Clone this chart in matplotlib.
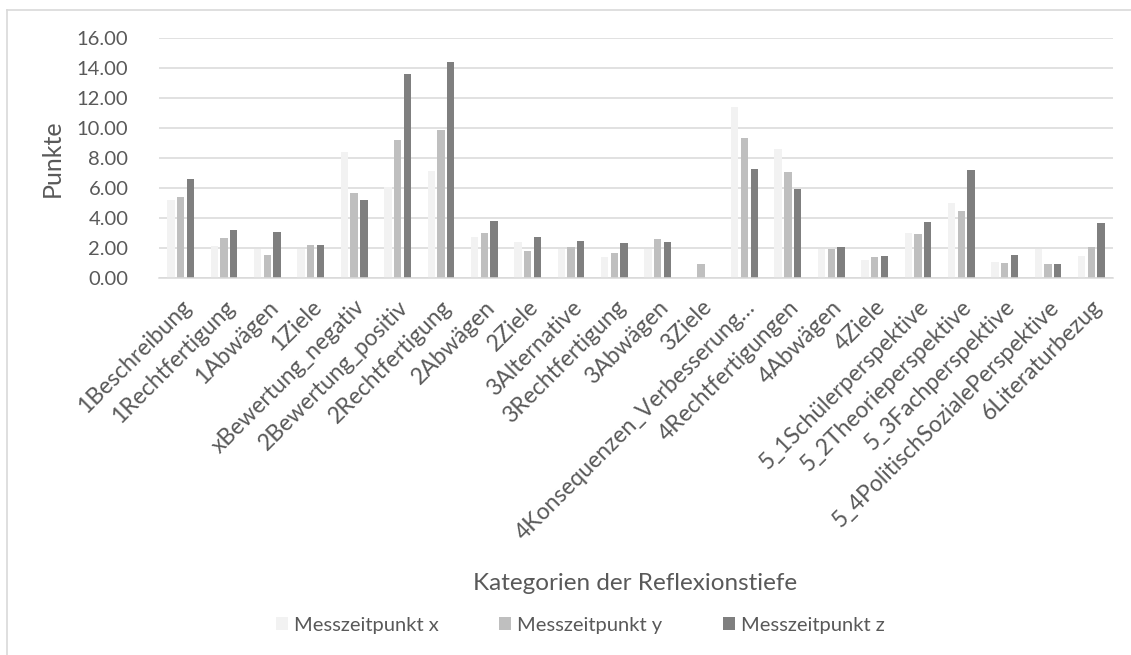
import numpy as np
import matplotlib
matplotlib.use('Agg')
from matplotlib import pyplot as plt
from matplotlib.lines import Line2D

kategorien = ['1Beschreibung', '1Rechtfertigung', '1Abwägen', '1Ziele',
              'xBewertung_negativ', '2Bewertung_positiv', '2Rechtfertigung',
              '2Abwägen', '2Ziele', '3Alternative', '3Rechtfertigung',
              '3Abwägen', '3Ziele', '4Konsequenzen_Verbesserung…',
              '4Rechtfertigungen', '4Abwägen', '4Ziele',
              '5_1Schülerperspektive', '5_2Theorieperspektive',
              '5_3Fachperspektive', '5_4PolitischSozialePerspektive',
              '6Literaturbezug']

messzeitpunkt_x = [5.22, 2.16, 1.96, 1.96, 8.42, 6.07, 7.13, 2.76, 2.44, 1.96, 1.44,
                   1.96, 0.0, 11.40, 8.62, 1.96, 1.24, 3.02, 5.00, 1.09, 1.96, 1.51]
messzeitpunkt_y = [5.44, 2.67, 1.53, 2.20, 5.69, 9.22, 9.87, 3.02, 1.84, 2.09, 1.69,
                   2.62, 0.96, 9.35, 7.11, 1.96, 1.40, 2.96, 4.47, 1.02, 0.96, 2.11]
messzeitpunkt_z = [6.62, 3.22, 3.09, 2.22, 5.20, 13.60, 14.42, 3.82, 2.76, 2.49, 2.38,
                   2.40, 0.0, 7.31, 5.98, 2.07, 1.47, 3.76, 7.20, 1.56, 0.96, 3.69]

series = ['Messzeitpunkt x', 'Messzeitpunkt y', 'Messzeitpunkt z']
farben = ['#F2F2F2', '#BFBFBF', '#7F7F7F']
texto = '#595959'

plt.rcParams['font.family'] = ['Lato', 'DejaVu Sans']

fig = plt.figure(figsize=(11.31, 6.55), dpi=100)
ax = fig.add_axes([0.1406, 0.5751, 0.8436, 0.3664])

pos = np.arange(len(kategorien))
paso = 0.2235
for i, (datos, c) in enumerate(zip([messzeitpunkt_x, messzeitpunkt_y, messzeitpunkt_z], farben)):
    ax.bar(pos + (i - 1) * paso, datos, width=0.17, color=c, label=series[i], zorder=2)

ax.set_xlim(-0.5, len(kategorien) - 0.5)
ax.set_ylim(0, 16)
ax.set_yticks(np.arange(0, 17, 2))
ax.set_yticklabels(['%.2f' % v for v in np.arange(0, 17, 2)])
ax.grid(axis='y', color='#D9D9D9', linewidth=1.1, zorder=0)
ax.set_axisbelow(True)
for s in ['top', 'right', 'left']:
    ax.spines[s].set_visible(False)
ax.spines['bottom'].set_color('#D9D9D9')
ax.spines['bottom'].set_linewidth(1.1)

ax.set_xticks(pos)
ax.set_xticklabels(kategorien, rotation=45, ha='right', rotation_mode='anchor')
ax.tick_params(axis='x', length=0, pad=13, labelsize=16.5, labelcolor=texto)
ax.tick_params(axis='y', length=0, pad=22, labelsize=14.5, labelcolor=texto)

ax.set_ylabel('Punkte', fontsize=18, color=texto)
ax.yaxis.set_label_coords(-0.1, 0.5)

fig.text(635 / 1131, 1 - 583 / 655, 'Kategorien der Reflexionstiefe',
         ha='center', va='center', fontsize=17.5, color=texto)

leyenda = fig.legend(loc='center', bbox_to_anchor=(580 / 1131, 1 - 625 / 655), ncol=3,
                     frameon=False, fontsize=14.5, handlelength=0.6, handleheight=0.6,
                     handletextpad=0.3, columnspacing=3.0)
for t in leyenda.get_texts():
    t.set_color(texto)

# marco exterior del grafico
fig.add_artist(Line2D([7 / 1131, 1], [1 - 10 / 655, 1 - 10 / 655], color='#D9D9D9', linewidth=1.2))
fig.add_artist(Line2D([7 / 1131, 7 / 1131], [0, 1 - 10 / 655], color='#D9D9D9', linewidth=1.2))

fig.savefig('out.png', dpi=100)
